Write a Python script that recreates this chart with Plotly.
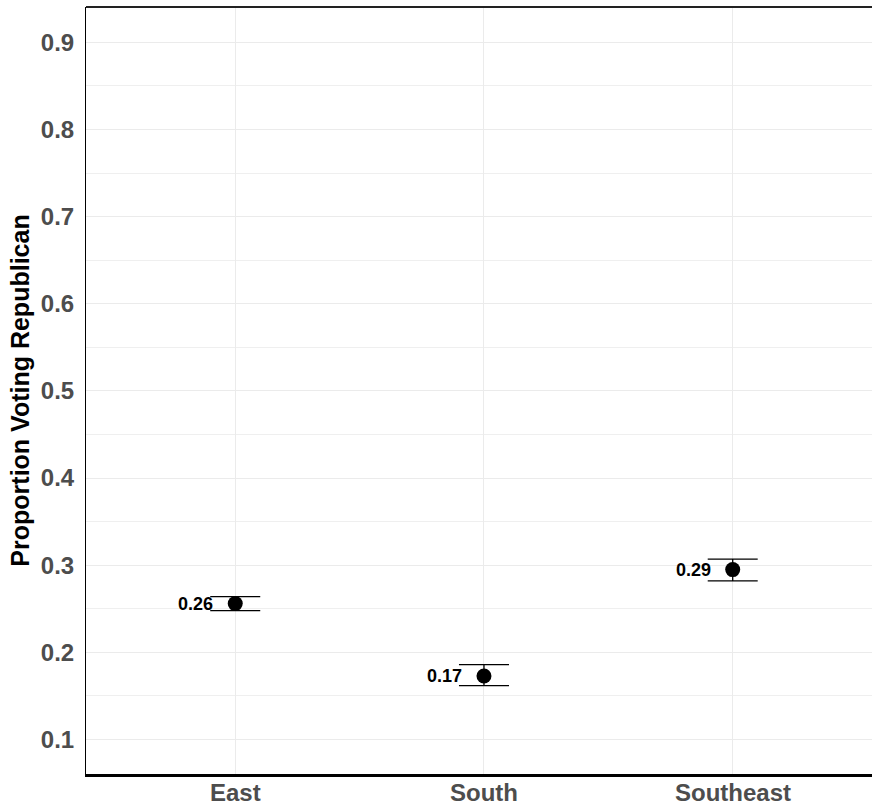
import plotly.graph_objects as go

# Regional estimates of the share voting Republican, with confidence bounds
regions = ["East", "South", "Southeast"]
proportion = [0.256, 0.173, 0.295]
upper = [0.264, 0.186, 0.307]
lower = [0.248, 0.162, 0.282]
labels = ["0.26", "0.17", "0.29"]
y_ticks = [0.1, 0.2, 0.3, 0.4, 0.5, 0.6, 0.7, 0.8, 0.9]

err_plus = [u - p for u, p in zip(upper, proportion)]
err_minus = [p - l for p, l in zip(proportion, lower)]

fig = go.Figure()
fig.add_trace(go.Scatter(
    x=regions, y=proportion, mode="markers",
    marker=dict(color="black", size=15),
    error_y=dict(type="data", symmetric=False, array=err_plus, arrayminus=err_minus,
                 color="black", thickness=1.3, width=25),
    showlegend=False, hoverinfo="skip",
))

for r, p, t in zip(regions, proportion, labels):
    fig.add_annotation(x=r, y=p, text=t, showarrow=False, xanchor="right",
                       yanchor="middle", xshift=-20,
                       font=dict(family="Liberation Sans, Arial", size=18, color="black", weight="bold"))

# category labels placed just under the baseline
for r in regions:
    fig.add_annotation(x=r, y=0, yref="paper", text=r, showarrow=False,
                       xanchor="center", yanchor="top", yshift=-3,
                       font=dict(family="Liberation Sans, Arial", size=24, color="#4d4d4d", weight="bold"))

# frame: top edge and heavier baseline
fig.add_shape(type="line", xref="paper", yref="paper", x0=0, x1=1, y0=1, y1=1,
              line=dict(color="#222222", width=2))

fig.update_layout(
    width=872, height=809,
    margin=dict(l=86, r=0, t=7, b=35, autoexpand=False),
    plot_bgcolor="white", paper_bgcolor="white",
    font=dict(family="Liberation Sans, Arial"),
    xaxis=dict(
        type="category", range=[-0.6, 2.56], automargin=False,
        showgrid=True, gridcolor="#ebebeb", gridwidth=1,
        showline=True, linecolor="black", linewidth=3,
        ticks="", showticklabels=False,
        zeroline=False,
    ),
    yaxis=dict(
        range=[0.0605, 0.9405], tickvals=y_ticks, ticktext=[str(v) for v in y_ticks],
        automargin=False,
        showgrid=True, gridcolor="#ebebeb", gridwidth=1,
        minor=dict(dtick=0.05, tick0=0.05, showgrid=True, gridcolor="#efefef", gridwidth=1),
        showline=True, linecolor="black", linewidth=1,
        ticks="", ticklabelstandoff=6,
        tickfont=dict(size=24, color="#4d4d4d", weight="bold"),
        title=dict(text="Proportion Voting Republican", standoff=4,
                   font=dict(size=25, color="black", weight="bold")),
        zeroline=False,
    ),
)

fig.write_html("out.html")
